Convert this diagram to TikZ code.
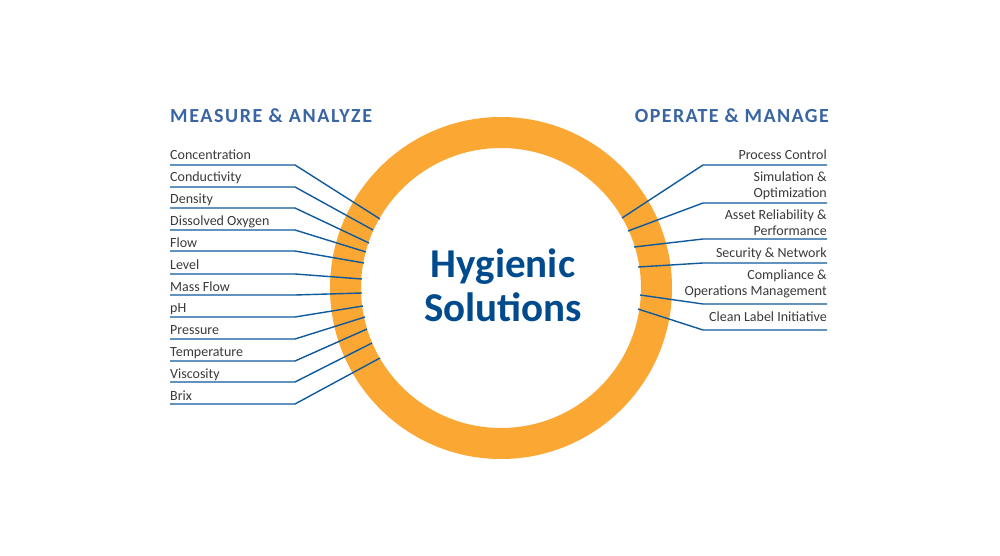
\documentclass[tikz,border=0pt]{standalone}
\usepackage{fontspec}
\setmainfont{Carlito}
\newfontfamily\headfont[LetterSpace=8]{Carlito}
\newfontfamily\headfontb[LetterSpace=7]{Carlito}
\definecolor{ringorange}{HTML}{FBA733}
\definecolor{leaderblue}{HTML}{0F5A9C}
\definecolor{headblue}{HTML}{3A65A5}
\definecolor{titleblue}{HTML}{004B8D}
\definecolor{labelgray}{HTML}{3A3A3A}
\tikzset{
  leader/.style={draw=leaderblue,line width=1.4pt,line join=miter},
  itemlabel/.style={inner sep=0pt,text depth=0pt,text=labelgray,font=\fontsize{14}{16}\selectfont},
  leftlabel/.style={itemlabel,anchor=south west,align=left},
  rightlabel/.style={itemlabel,anchor=south east,align=right},
  headlabel/.style={inner sep=0pt,text depth=0pt,text=headblue,font=\headfont\bfseries\fontsize{20}{22}\selectfont},
  headlabelb/.style={inner sep=0pt,text depth=0pt,text=headblue,font=\headfontb\bfseries\fontsize{20}{22}\selectfont},
  titlelabel/.style={inner sep=0pt,align=center,text=titleblue,font=\bfseries\fontsize{41}{44}\selectfont},
}
\begin{document}
\begin{tikzpicture}[x=1pt,y=-1pt]
\useasboundingbox (0,0) rectangle (1000,556);
\fill[white] (0,0) rectangle (1000,556);
\coordinate (ringc) at (501,288);
\fill[ringorange,even odd rule] (ringc) circle[radius=171] (ringc) circle[radius=140];
\node[titlelabel] (title) at (503,285) {Hygienic\\Solutions};
\node[headlabel,anchor=south west] (hl) at (170,123) {MEASURE \& ANALYZE};
\node[headlabelb,anchor=south east] (hr) at (829,123) {OPERATE \& MANAGE};
\foreach \n/\t/\y/\b/\ex/\ey in {
  a/Concentration/165/159.8/380/219,
  b/Conductivity/187/181.7/373/230,
  c/Density/208/203.6/369/243,
  d/Dissolved Oxygen/230/225.5/366/252,
  e/Flow/251/247.4/364/263,
  f/Level/274/269.3/362/279,
  g/Mass Flow/295/291.2/362/293,
  h/pH/317/313.1/363/306,
  i/Pressure/339/335/365/317,
  j/Temperature/361/356.9/367/329,
  k/Viscosity/382/378.8/372/343,
  l/Brix/404/400.7/380/358}{
  \node[leftlabel] (L\n) at (170,\b) {\t};
  \coordinate (LS\n) at (170,\y);
  \coordinate (LB\n) at (295,\y);
  \coordinate (LE\n) at (\ex,\ey);
  \draw[leader] (LS\n) -- (LB\n) -- (LE\n);
}
\foreach \n/\t/\y/\b/\ex/\ey in {
  a/Process Control/165/159.8/622/218,
  b/Simulation \&\\Optimization/203/197.5/628/231,
  c/Asset Reliability \&\\Performance/239/235.5/634/247,
  d/Security \& Network/263/257.5/638/267,
  e/Compliance \&\\Operations Management/304/295.5/640/295,
  f/Clean Label Initiative/330/321.5/638/309}{
  \node[rightlabel] (R\n) at (827,\b) {\t};
  \coordinate (RS\n) at (827,\y);
  \coordinate (RB\n) at (703,\y);
  \coordinate (RE\n) at (\ex,\ey);
  \draw[leader] (RS\n) -- (RB\n) -- (RE\n);
}
\end{tikzpicture}
\end{document}
